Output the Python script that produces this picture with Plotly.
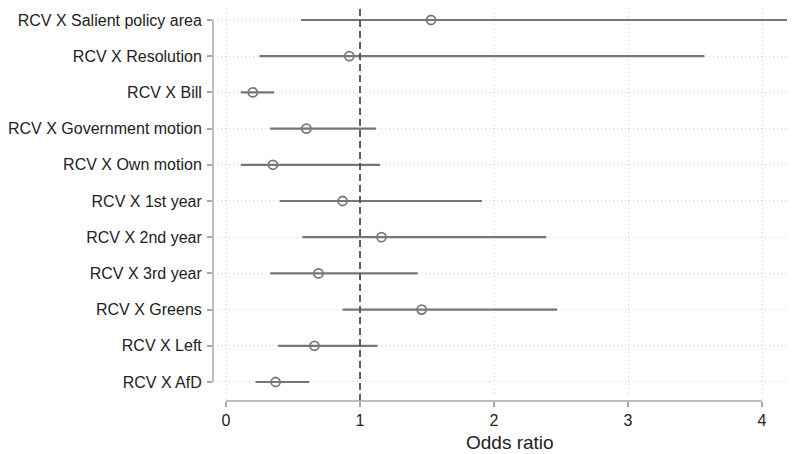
import plotly.graph_objects as go

labels = ["RCV X Salient policy area", "RCV X Resolution", "RCV X Bill",
          "RCV X Government motion", "RCV X Own motion", "RCV X 1st year",
          "RCV X 2nd year", "RCV X 3rd year", "RCV X Greens", "RCV X Left",
          "RCV X AfD"]
odds = [1.53, 0.92, 0.20, 0.60, 0.35, 0.87, 1.16, 0.69, 1.46, 0.66, 0.37]
ci_low = [0.56, 0.25, 0.11, 0.33, 0.11, 0.40, 0.57, 0.33, 0.87, 0.39, 0.22]
ci_high = [4.60, 3.57, 0.36, 1.12, 1.15, 1.91, 2.39, 1.43, 2.47, 1.13, 0.62]
xticks = [0, 1, 2, 3, 4]

pos = list(range(len(labels)))

# page has an 8px body margin; size figure to fit the 795x454 window
W, H = 787, 446
ml, mr, mt, mb = 205, 0, 0, 53
paper_h = H - mt - mb
gap = 5 / paper_h

line_x, line_y = [], []
for lo, hi, p in zip(ci_low, ci_high, pos):
    line_x += [lo, hi, None]
    line_y += [p, p, None]

fig = go.Figure()
fig.add_trace(go.Scatter(x=line_x, y=line_y, mode="lines",
                         line=dict(color="#767676", width=2.2),
                         hoverinfo="skip", showlegend=False))
fig.add_trace(go.Scatter(x=odds, y=pos, mode="markers",
                         marker=dict(symbol="circle-open", size=9,
                                     color="#7a7a7a", line=dict(width=1.8)),
                         showlegend=False))

# reference line at 1
fig.add_shape(type="line", xref="x", yref="paper", x0=1, x1=1, y0=0, y1=1,
              line=dict(color="#505050", width=1.8, dash="7px,4px"), layer="above")
# x axis line from 0 to 4
fig.add_shape(type="line", xref="x", yref="paper", x0=xticks[0], x1=xticks[-1],
              y0=0, y1=0, line=dict(color="#a8a8a8", width=1.5))
# y axis line from first to last category
fig.add_shape(type="line", xref="paper", yref="y", x0=0, x1=0,
              y0=pos[0], y1=pos[-1], line=dict(color="#a8a8a8", width=1.5))

fig.add_annotation(text="Odds ratio", xref="x", yref="paper", x=2.12,
                   y=-41 / paper_h, yanchor="middle", showarrow=False,
                   font=dict(size=19, color="#222222"))

fig.update_layout(
    width=W, height=H,
    margin=dict(l=ml, r=mr, t=mt, b=mb, autoexpand=False),
    plot_bgcolor="white", paper_bgcolor="white",
    font=dict(family="Liberation Sans, Arial, sans-serif", color="#222222"),
    xaxis=dict(range=[-0.097, 4.246], tickvals=xticks,
               ticktext=[str(v) for v in xticks],
               anchor="free", position=0, automargin=False,
               showline=False, zeroline=False,
               showgrid=True, gridcolor="#cfcfcf", griddash="1px,3px", gridwidth=1,
               ticks="outside", ticklen=5, tickcolor="#a8a8a8", tickwidth=1.5,
               tickfont=dict(size=16, color="#222222")),
    yaxis=dict(range=[10.387, -0.331], domain=[gap, 1], automargin=False,
               tickvals=pos, ticktext=labels,
               showline=False, zeroline=False,
               showgrid=True, gridcolor="#cfcfcf", griddash="1px,3px", gridwidth=1,
               ticks="outside", ticklen=5, tickcolor="#a8a8a8", tickwidth=1.5,
               ticklabelstandoff=2,
               tickfont=dict(size=16, color="#222222")),
)

fig.write_html("out.html")
